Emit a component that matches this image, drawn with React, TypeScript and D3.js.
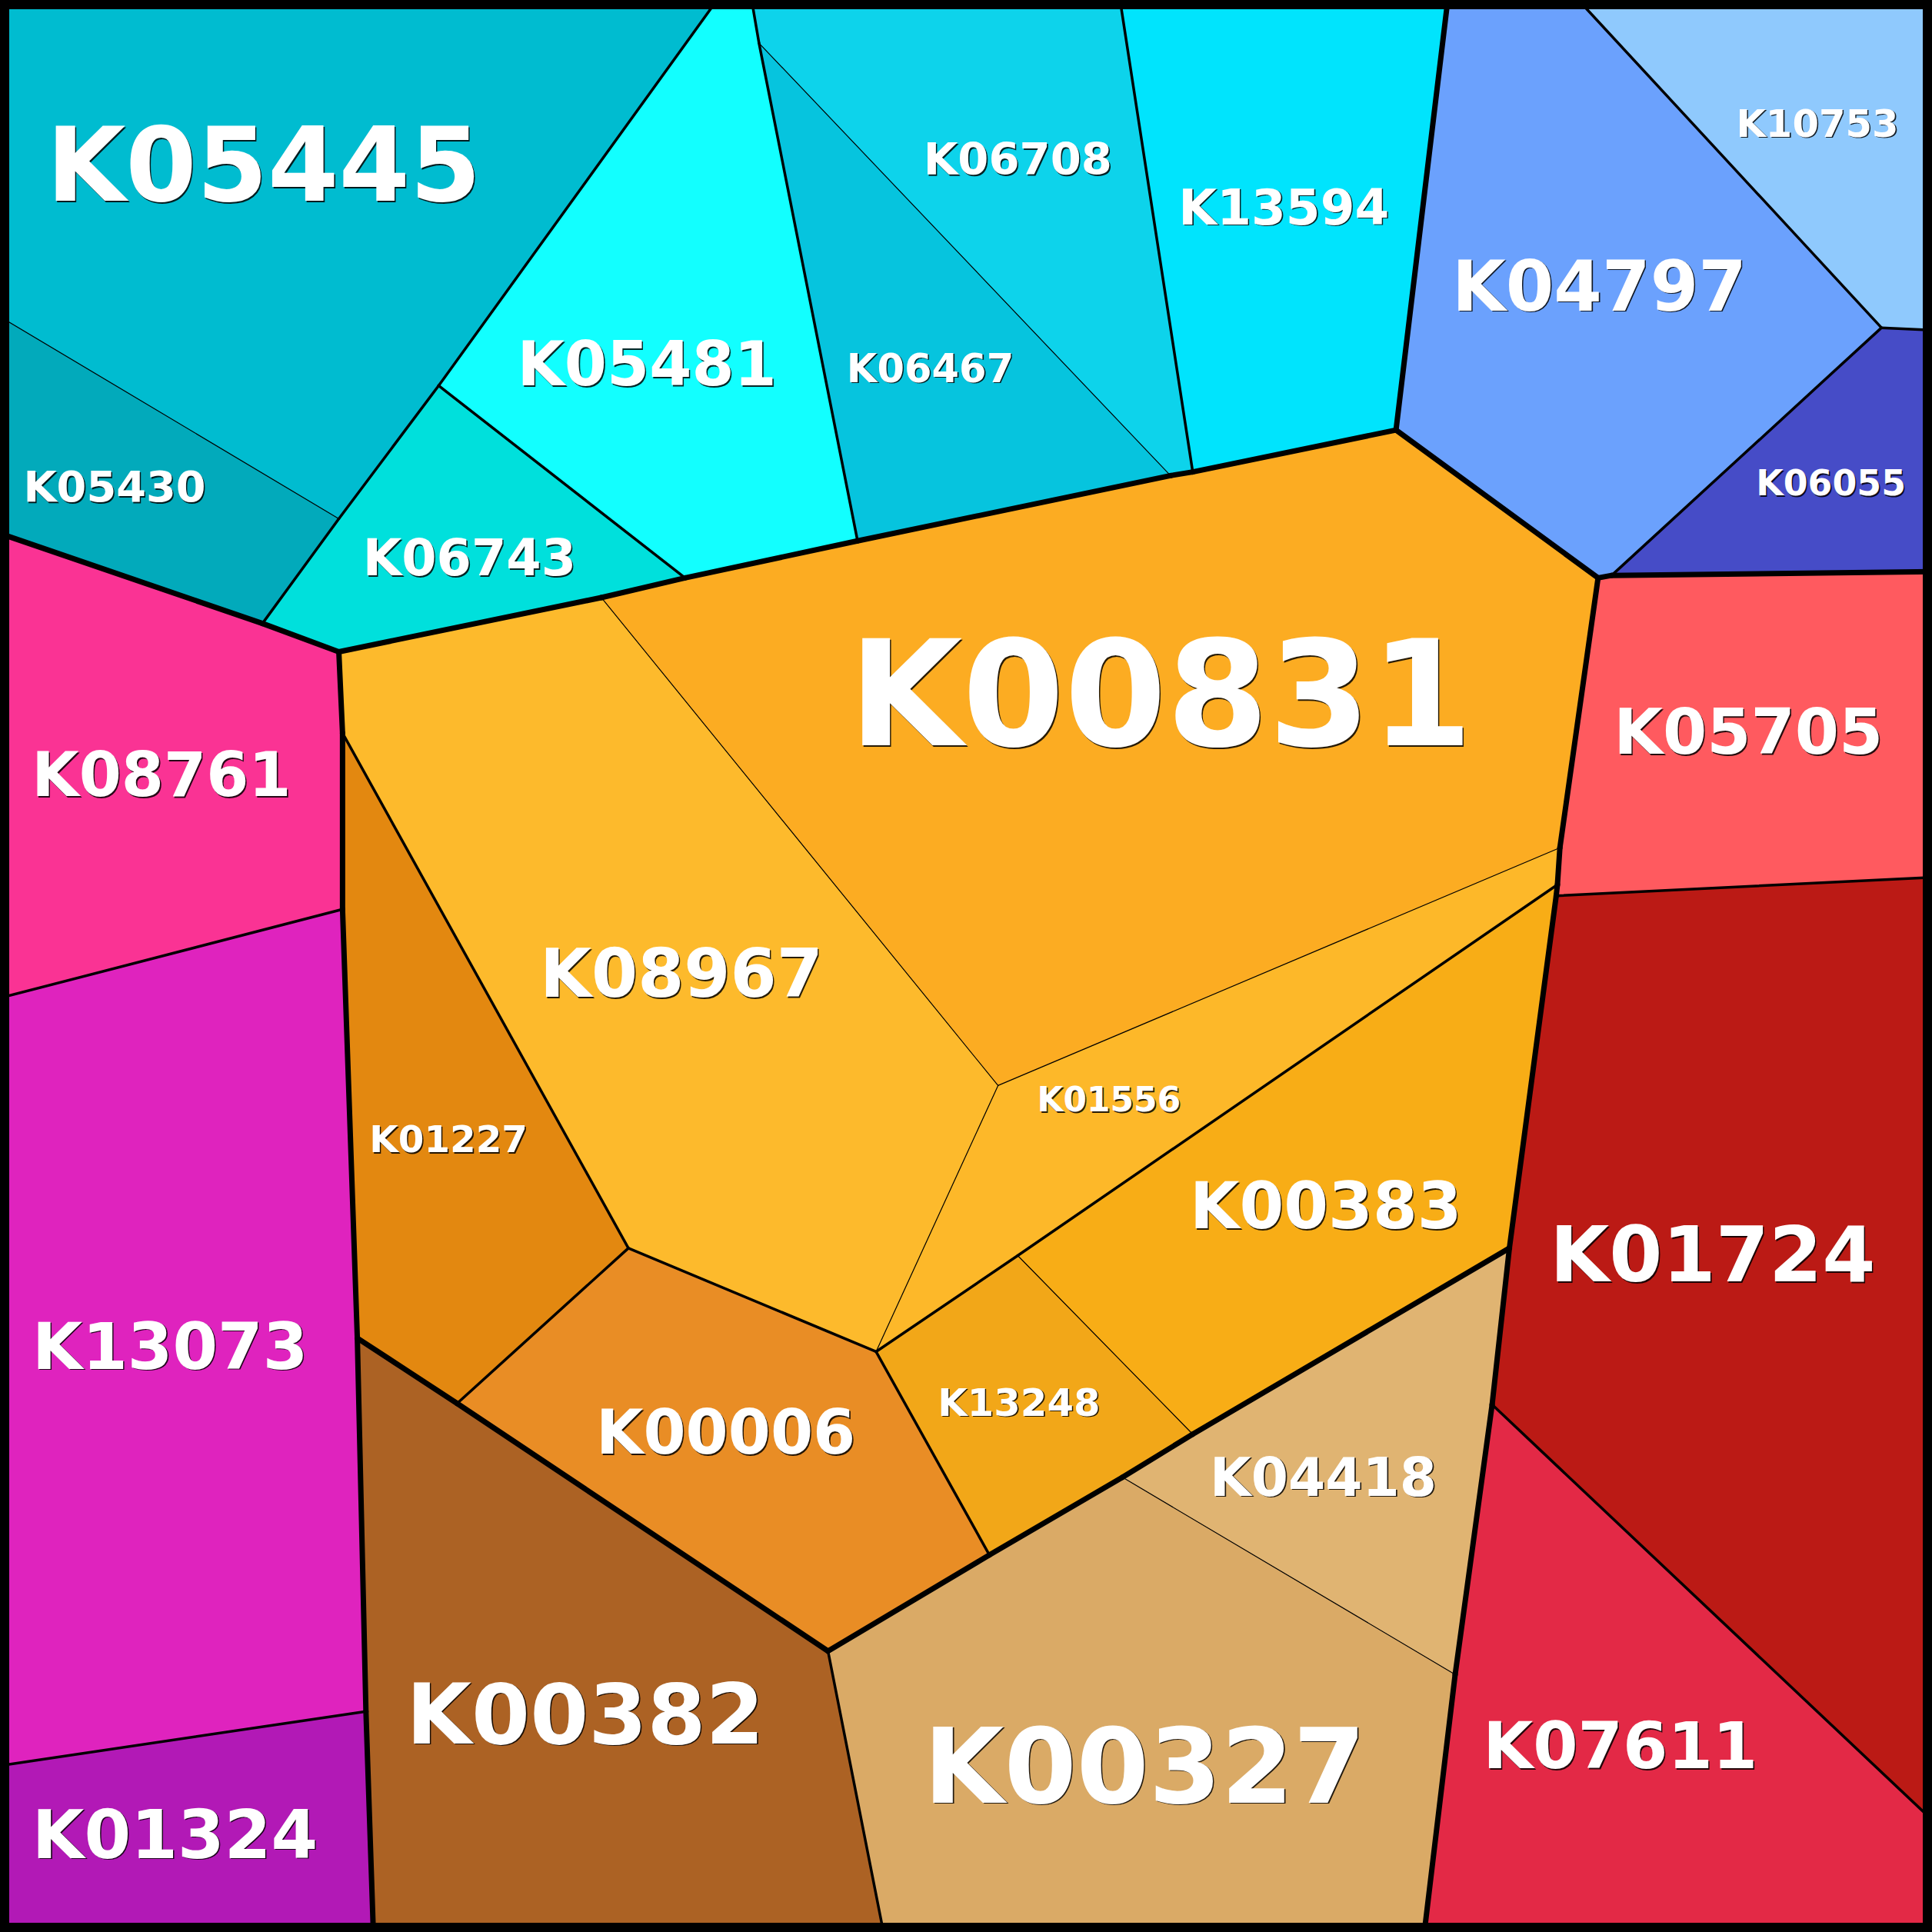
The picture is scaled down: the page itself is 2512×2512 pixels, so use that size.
import React, { useEffect } from "react";
import * as d3 from "d3";

// Layout units: the treemap square is 1568 x 1568 layout units.
const LAYOUT = 1568;
const SIZE = 2512;

// Voronoi treemap vertices: [id, x, y] in layout units
const vertices: [string, number, number][] = [
  ["TL", 0, 0], ["TR", 1568, 0], ["BR", 1568, 1568], ["BL", 0, 1568],
  ["tA", 582, 0], ["tB", 610, 0], ["tC", 909, 0], ["tD", 1175, 0], ["tE", 1281, 0],
  ["rA", 1568, 268], ["rB", 1568, 464], ["rC", 1568, 712], ["rD", 1568, 1477],
  ["bA", 303, 1568], ["bB", 717, 1568], ["bC", 1156, 1568],
  ["lA", 0, 257], ["lB", 0, 433], ["lC", 0, 810], ["lD", 0, 1433],
  ["c1", 356, 313], ["c2", 275, 421], ["c3", 213, 506], ["c4", 275, 529],
  ["c5", 488, 485], ["c6", 556, 469], ["c7", 696, 439], ["c8", 616, 35],
  ["c9", 950, 386], ["c10", 968, 383], ["c11", 1133, 349],
  ["b1", 1527, 266], ["b2", 1297, 469], ["b3", 1308, 467],
  ["o1", 278, 595], ["o2", 278, 738], ["o3", 290, 1086], ["o4", 371, 1139],
  ["o5", 510, 1013], ["o6", 711, 1097], ["o7", 810, 881], ["o8", 1266, 688],
  ["o9", 1264, 718], ["o10", 826, 1019], ["o11", 968, 1164], ["o12", 803, 1262],
  ["o13", 672, 1340], ["o14", 1225, 1013], ["o15", 1263, 727],
  ["t1", 911, 1199], ["t2", 1181, 1359], ["r1", 1211, 1140],
  ["p1", 297, 1389],
];

// Leaf cells
const cellNames = [
  "K05445", "K05430", "K06743", "K05481", "K06467", "K06708", "K13594",
  "K04797", "K10753", "K06055",
  "K00831", "K08967", "K01556", "K00383", "K13248", "K00006", "K01227",
  "K00382", "K00327", "K04418",
  "K05705", "K01724", "K07611",
  "K08761", "K13073", "K01324",
];
const cellGroups = [
  "cyan", "cyan", "cyan", "cyan", "cyan", "cyan", "cyan",
  "blue", "blue", "blue",
  "orange", "orange", "orange", "orange", "orange", "orange", "orange",
  "brown", "brown", "brown",
  "red", "red", "red",
  "pink", "pink", "pink",
];
const cellSubgroups = [
  "c1", "c1", "c2", "c3", "c4", "c4", "c5",
  "b1", "b2", "b3",
  "o1", "o1", "o1", "o2", "o2", "o3", "o4",
  "n1", "n2", "n2",
  "r1", "r2", "r3",
  "p1", "p2", "p3",
];
const cellColors = [
  "#00BCD0", "#02AABB", "#00E0DC", "#12FFFF", "#06C4DE", "#0DD3EB", "#00E4FD",
  "#6BA1FD", "#8FC9FD", "#464CC7",
  "#FCAC22", "#FDBA2C", "#FDB829", "#F8AD16", "#F2A718", "#E98D25", "#E38810",
  "#AC6224", "#DAAA66", "#E0B472",
  "#FF5A5F", "#BB1A15", "#E32946",
  "#FA3394", "#DF23BE", "#B219B6",
];
const cellPolygons = [
  "TL tA c1 c2 lA",
  "lA c2 c3 lB",
  "c2 c1 c6 c5 c4 c3",
  "tA tB c8 c7 c6 c1",
  "c8 c9 c7",
  "tB tC c10 c9 c8",
  "tC tD c11 c10",
  "tD tE b1 b3 b2 c11",
  "tE TR rA b1",
  "b1 rA rB b3",
  "c5 c6 c7 c9 c10 c11 b2 o8 o7",
  "c4 c5 o7 o6 o5 o1",
  "o7 o8 o9 o10 o6",
  "o10 o9 o15 o14 o11",
  "o6 o10 o11 t1 o12",
  "o5 o6 o12 o13 o4",
  "o1 o5 o4 o3 o2",
  "o3 o4 o13 bB bA p1",
  "o13 o12 t1 t2 bC bB",
  "t1 o11 o14 r1 t2",
  "b2 b3 rB rC o15 o9 o8",
  "o15 rC rD r1 o14",
  "r1 rD BR bC t2",
  "lB c3 c4 o1 o2 lC",
  "lC o2 o3 p1 lD",
  "lD p1 bA BL",
];
// Label anchors (site centre x, text baseline y) and label weights
const labelX = [
  214, 93, 381, 525, 755, 826, 1042,
  1298, 1475, 1486,
  942, 553, 900, 1076, 827, 589, 364,
  475, 929, 1074,
  1419, 1390, 1315,
  131, 138, 142,
];
const labelY = [
  163, 407, 467, 313, 310, 142, 182,
  252, 111, 402,
  605, 809, 902, 997, 1149, 1180, 935,
  1415, 1463, 1214,
  612, 1040, 1435,
  646, 1111, 1508,
];
const labelWeights = [
  82.9, 34.8, 40.7, 49.5, 31.9, 36.0, 40.2,
  56.2, 31.0, 28.6,
  119.0, 54.0, 27.4, 51.9, 31.0, 49.5, 30.2,
  68.3, 84.3, 43.3,
  51.4, 62.1, 52.4,
  49.5, 52.6, 54.5,
];

export default function App() {
  useEffect(() => {
    document.body.style.margin = "0";
    document.body.style.overflow = "hidden";
  }, []);

  const x = d3.scaleLinear().domain([0, LAYOUT]).range([0, SIZE]);
  const y = d3.scaleLinear().domain([0, LAYOUT]).range([0, SIZE]);
  const fontScale = d3.scaleLinear().domain([0, LAYOUT]).range([0, SIZE]);

  const vmap = new Map<string, [number, number]>();
  vertices.forEach(([id, vx, vy]) => vmap.set(id, [vx, vy]));

  const cells = cellNames.map((name, i) => {
    const ids = cellPolygons[i].split(" ");
    const pts = ids.map((id) => {
      const p = vmap.get(id)!;
      return [x(p[0]), y(p[1])] as [number, number];
    });
    return { name, i, ids, pts };
  });

  const line = d3.line<[number, number]>().x((d) => d[0]).y((d) => d[1]);

  // Build shared edges and classify them by hierarchy level
  const edgeMap = new Map<string, { a: string; b: string; cells: number[] }>();
  cells.forEach((c) => {
    const n = c.ids.length;
    for (let k = 0; k < n; k++) {
      const a = c.ids[k];
      const b = c.ids[(k + 1) % n];
      const key = a < b ? a + "|" + b : b + "|" + a;
      if (!edgeMap.has(key)) edgeMap.set(key, { a, b, cells: [] });
      edgeMap.get(key)!.cells.push(c.i);
    }
  });

  const onFrame = (a: string, b: string) => {
    const pa = vmap.get(a)!;
    const pb = vmap.get(b)!;
    return (
      (pa[0] === 0 && pb[0] === 0) ||
      (pa[1] === 0 && pb[1] === 0) ||
      (pa[0] === LAYOUT && pb[0] === LAYOUT) ||
      (pa[1] === LAYOUT && pb[1] === LAYOUT)
    );
  };

  const edges: { d: string; w: number }[] = [];
  edgeMap.forEach((e) => {
    if (onFrame(e.a, e.b)) return;
    let w = 7;
    if (e.cells.length === 2) {
      const [i, j] = e.cells;
      if (cellGroups[i] !== cellGroups[j]) w = 7;
      else if (cellSubgroups[i] !== cellSubgroups[j]) w = 3.5;
      else w = 1.2;
    }
    const pa = vmap.get(e.a)!;
    const pb = vmap.get(e.b)!;
    edges.push({
      d: line([
        [x(pa[0]), y(pa[1])],
        [x(pb[0]), y(pb[1])],
      ])!,
      w,
    });
  });
  edges.sort((p, q) => p.w - q.w);

  return (
    <svg
      width={SIZE}
      height={SIZE}
      viewBox={`0 0 ${SIZE} ${SIZE}`}
      style={{ display: "block" }}
    >
      <rect x={0} y={0} width={SIZE} height={SIZE} fill="#000" />
      <g>
        {cells.map((c) => (
          <path
            key={c.name}
            d={line(c.pts)! + "Z"}
            fill={cellColors[c.i]}
            stroke={cellColors[c.i]}
            strokeWidth={0.5}
          />
        ))}
      </g>
      <g fill="none" stroke="#000" strokeLinecap="round" strokeLinejoin="round">
        {edges.map((e, k) => (
          <path key={k} d={e.d} strokeWidth={e.w} />
        ))}
      </g>
      <rect
        x={6}
        y={6}
        width={SIZE - 12}
        height={SIZE - 12}
        fill="none"
        stroke="#000"
        strokeWidth={12}
      />
      <g
        fontFamily="'DejaVu Sans', sans-serif"
        fontWeight="bold"
        textAnchor="middle"
      >
        {cellNames.map((name, i) => {
          const fs = fontScale(labelWeights[i]);
          const tx = x(labelX[i]);
          const ty = y(labelY[i]);
          return (
            <g key={name} fontSize={fs}>
              <text x={tx + 1.6} y={ty + 1.6} fill="#000" fillOpacity={0.85}>
                {name}
              </text>
              <text x={tx} y={ty} fill="#fff">
                {name}
              </text>
            </g>
          );
        })}
      </g>
    </svg>
  );
}
